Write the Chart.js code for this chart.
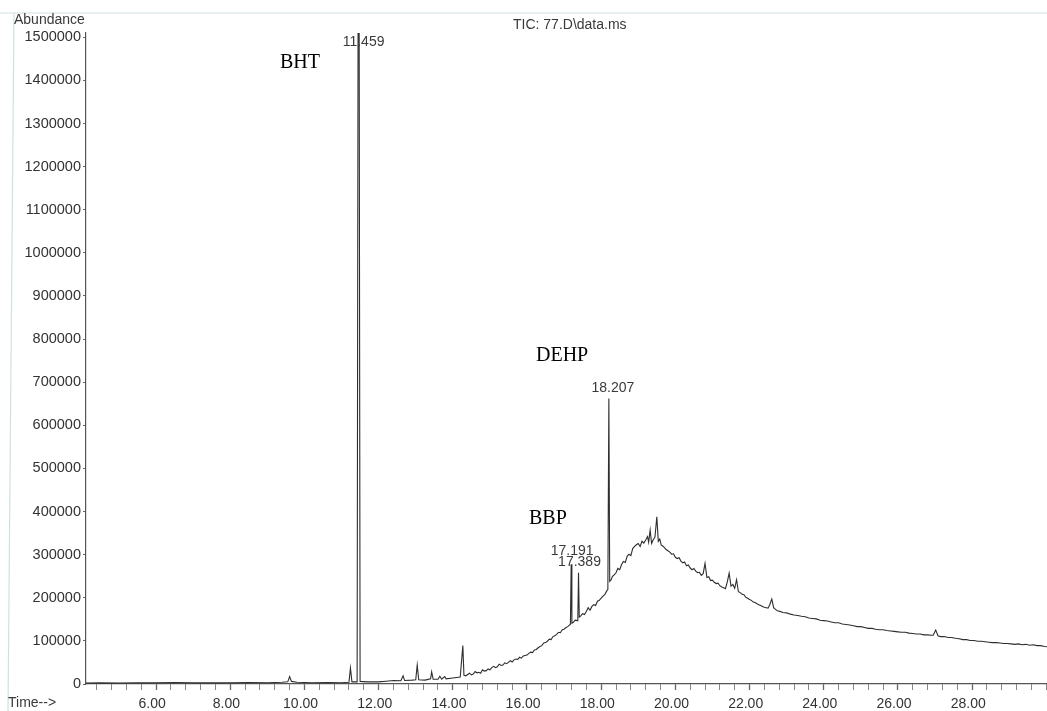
<!DOCTYPE html>
<html>
<head>
<meta charset="utf-8">
<script src="https://cdn.jsdelivr.net/npm/chart.js@4.4.1/dist/chart.umd.min.js"></script>
<style>
html,body{margin:0;padding:0;background:#fff;}
#wrap{position:relative;width:1047px;height:711px;}
</style>
</head>
<body>
<div id="wrap"><canvas id="c" width="1047" height="711"></canvas></div>
<script>
// ---- data (retention time in minutes, abundance) ----
const times = [
 4.11,4.5,5.0,5.5,6.0,6.5,7.0,7.5,8.0,8.5,9.0,9.4,9.55,9.6,9.65,9.8,10.2,10.6,11.0,11.2,
 11.24,11.28,11.42,11.445,11.475,11.5,11.7,12.0,12.2,12.4,12.6,12.66,12.7,12.9,13.0,13.04,13.08,13.25,13.4,13.43,13.47,
 13.6,13.65,13.7,13.78,13.82,14.0,14.2,14.27,
 14.30,14.35,14.40,14.45,14.50,14.55,14.60,14.65,14.70,14.75,14.80,14.85,14.90,14.95,15.00,15.05,15.10,15.15,15.20,15.25,
 15.30,15.35,15.40,15.45,15.50,15.55,15.60,15.65,15.70,15.75,15.80,15.85,15.90,15.95,16.00,16.05,16.10,16.15,16.20,16.25,
 16.30,16.35,16.40,16.45,16.50,16.55,16.60,16.65,16.70,16.75,16.80,16.85,16.90,16.95,17.00,17.05,17.10,17.15,17.17,17.191,
 17.21,17.25,17.30,17.35,17.37,17.389,17.41,17.45,17.50,17.55,17.60,17.65,17.70,17.75,17.80,17.85,17.90,17.95,18.00,18.05,
 18.10,18.15,18.18,18.207,18.23,18.27,18.30,18.35,18.40,18.45,18.50,18.55,18.60,18.65,18.70,18.75,18.80,18.85,18.90,18.95,
 19.00,19.05,19.10,19.15,19.20,19.25,19.28,19.32,19.36,19.40,19.45,19.50,19.54,19.58,19.62,19.66,19.70,19.75,19.80,19.85,
 19.90,19.95,20.00,20.05,20.10,20.15,20.20,20.25,20.30,20.35,20.40,20.45,20.50,20.55,20.60,20.65,20.70,20.75,20.80,20.85,
 20.90,20.95,21.00,21.05,21.10,21.15,21.20,21.25,21.30,21.35,21.40,21.45,21.50,21.55,21.60,21.65,21.70,21.75,21.80,21.85,
 21.90,21.95,22.00,22.05,22.10,22.15,22.20,22.25,22.30,22.35,22.40,22.45,22.50,22.55,22.60,22.65,22.70,22.75,22.80,22.90,
 23.00,23.10,23.20,23.30,23.40,23.50,23.60,23.70,23.80,23.90,24.00,24.10,24.20,24.30,24.40,24.50,24.60,24.70,24.80,24.90,
 25.00,25.10,25.20,25.30,25.40,25.50,25.60,25.70,25.80,25.90,26.00,26.10,26.20,26.30,26.40,26.50,26.60,26.70,26.80,26.90,
 26.95,27.02,27.08,27.15,27.25,27.35,27.45,27.55,27.65,27.75,27.85,27.95,28.05,28.15,28.25,28.35,28.45,28.55,28.65,28.75,
 28.85,28.95,29.05,29.15,29.25,29.35,29.45,29.55,29.65,29.75,29.85,29.95,30.02
];
const abundance = [
 2000,2500,2000,3000,2500,3500,2500,3000,2500,3500,3000,4000,5000,17000,6000,4000,3000,3500,3000,4000,
 37000,5000,5000,1516000,1516000,6000,5000,5000,6500,8000,7500,19000,8000,9000,10000,44000,10000,9000,12000,28000,11000,
 11000,18000,11000,17000,12000,14000,16000,89000,
 20000,19000,22000,25000,21000,23000,29000,26000,27000,25000,33000,30000,31000,35000,33000,38000,41000,38000,40000,46000,
 43000,44000,49000,47000,50000,54000,51000,56000,58000,57000,62000,60000,65000,66000,67000,71000,74000,73000,79000,80000,
 84000,87000,89000,95000,96000,99000,104000,103000,110000,112000,115000,120000,119000,126000,127000,131000,133000,137000,138000,278000,
 141000,143000,148000,147000,151000,258000,155000,158000,163000,161000,168000,177000,171000,180000,184000,182000,192000,194000,199000,204000,
 208000,216000,219000,662000,238000,242000,249000,253000,258000,268000,265000,277000,284000,282000,296000,301000,298000,314000,319000,323000,
 326000,319000,331000,327000,334000,342000,329000,357000,326000,334000,341000,388000,331000,336000,322000,320000,317000,312000,309000,306000,
 301000,302000,294000,291000,293000,285000,281000,283000,274000,276000,269000,265000,268000,262000,258000,259000,252000,256000,280000,247000,
 249000,240000,241000,236000,233000,234000,228000,225000,223000,221000,237000,257000,227000,231000,222000,242000,214000,212000,208000,207000,
 201000,199000,196000,194000,190000,189000,186000,184000,182000,180000,178000,177000,176000,185000,197000,177000,173000,170000,169000,166000,
 165000,162000,160000,159000,157000,156000,153000,152000,151000,148000,147000,146000,144000,142000,142000,139000,138000,137000,135000,133000,
 133000,131000,129000,129000,127000,126000,126000,124000,123000,122000,121000,120000,120000,118000,117000,116000,116000,114000,114000,113000,
 113000,125000,112000,110000,110000,108000,108000,106000,105000,103000,103000,101000,101000,99000,99000,98000,97000,96000,96000,95000,
 94000,94000,93000,92000,93000,91000,92000,90000,91000,89000,89000,87000,86500
];
const xLabelTimes = [6, 8, 10, 12, 14, 16, 18, 20, 22, 24, 26, 28];
const yTickValues = [0,100000,200000,300000,400000,500000,600000,700000,800000,900000,1000000,1100000,1200000,1300000,1400000,1500000];
const peakLabels = ['11.459', '17.191', '17.389', '18.207'];
const peakTimes = [11.459, 17.191, 17.389, 18.207];
const peakHeights = [1516000, 278000, 258000, 662000];
const compoundNames = ['BHT', 'BBP', 'DEHP'];
const titleText = 'TIC: 77.D\\data.ms';

const points = times.map((t, i) => ({x: t, y: abundance[i]}));

const decor = {
  id: 'decor',
  beforeDraw(chart) {
    const ctx = chart.ctx;
    ctx.save();
    ctx.fillStyle = '#fff';
    ctx.fillRect(0, 0, chart.width, chart.height);
    ctx.strokeStyle = '#cfe0e3';
    ctx.lineWidth = 1.2;
    ctx.beginPath();
    ctx.moveTo(0, 13); ctx.lineTo(chart.width, 13);
    ctx.moveTo(14, 13); ctx.lineTo(8, chart.height);
    ctx.stroke();
    ctx.restore();
  },
  afterDraw(chart) {
    const ctx = chart.ctx;
    const xs = chart.scales.x, ys = chart.scales.y;
    const top = chart.chartArea.top;
    ctx.save();
    ctx.fillStyle = '#3a3a3a';
    ctx.textBaseline = 'middle';
    ctx.font = '14px "Liberation Sans", Arial, sans-serif';
    ctx.textAlign = 'left';
    ctx.fillText('Abundance', 14, 20);
    ctx.fillText(titleText, 513, 25);
    ctx.fillText('Time-->', 8, 703);
    // peak retention-time labels
    ctx.textAlign = 'center';
    const dy = [0, 13, 11, 10];
    const dx = [5, 1, 1, 4];
    peakLabels.forEach((lab, i) => {
      const px = xs.getPixelForValue(peakTimes[i]) + dx[i];
      const py = Math.max(ys.getPixelForValue(peakHeights[i]) - dy[i], top + 9);
      ctx.fillText(lab, px, py);
    });
    // compound names
    ctx.fillStyle = '#000';
    ctx.font = '20px "Liberation Serif", "Times New Roman", serif';
    ctx.textAlign = 'left';
    ctx.fillText(compoundNames[0], 280, 63);
    ctx.fillText(compoundNames[1], 529, 519);
    ctx.fillText(compoundNames[2], 536, 356);
    ctx.restore();
  }
};

new Chart(document.getElementById('c'), {
  type: 'scatter',
  data: {
    datasets: [{
      data: points,
      showLine: true,
      borderColor: '#2e2e2e',
      borderWidth: 1.1,
      pointRadius: 0,
      tension: 0,
      fill: false
    }]
  },
  options: {
    responsive: false,
    animation: false,
    devicePixelRatio: 1,
    layout: {padding: {top: 33, right: 0, bottom: 0, left: 0}},
    plugins: {legend: {display: false}, tooltip: {enabled: false}},
    scales: {
      x: {
        type: 'linear',
        min: 4.11,
        max: 30.02,
        afterBuildTicks(scale) {
          const arr = [];
          for (let k = 11; k <= 75; k++) arr.push({value: +(k * 0.4).toFixed(2)});
          scale.ticks = arr;
        },
        afterFit(scale) { scale.height = 27; scale.paddingLeft = 0; scale.paddingRight = 0; },
        border: {display: true, color: '#555', width: 1.2},
        grid: {
          drawOnChartArea: false,
          drawTicks: true,
          tickLength: 6,
          tickColor: '#666',
          tickWidth: (c) => (xLabelTimes.includes(Math.round(c.tick.value * 100) / 100) ? 1.3 : 0.8)
        },
        ticks: {
          autoSkip: false,
          maxRotation: 0,
          padding: 6,
          color: '#333',
          font: {family: '"Liberation Sans", Arial, sans-serif', size: 14},
          callback: (v) => {
            const r = Math.round(v * 100) / 100;
            return xLabelTimes.includes(r) ? r.toFixed(2) + '\u00A0\u00A0' : '';
          }
        }
      },
      y: {
        min: 0,
        max: 1510000,
        afterBuildTicks(scale) { scale.ticks = yTickValues.map(v => ({value: v})); },
        afterFit(scale) { scale.width = 86; },
        border: {display: true, color: '#555', width: 1.2},
        grid: {drawOnChartArea: false, drawTicks: true, tickLength: 3, tickColor: '#666'},
        ticks: {
          padding: 2,
          color: '#333',
          font: {family: '"Liberation Sans", Arial, sans-serif', size: 14.5},
          callback: (v) => String(v)
        }
      }
    }
  },
  plugins: [decor]
});
</script>
</body>
</html>
